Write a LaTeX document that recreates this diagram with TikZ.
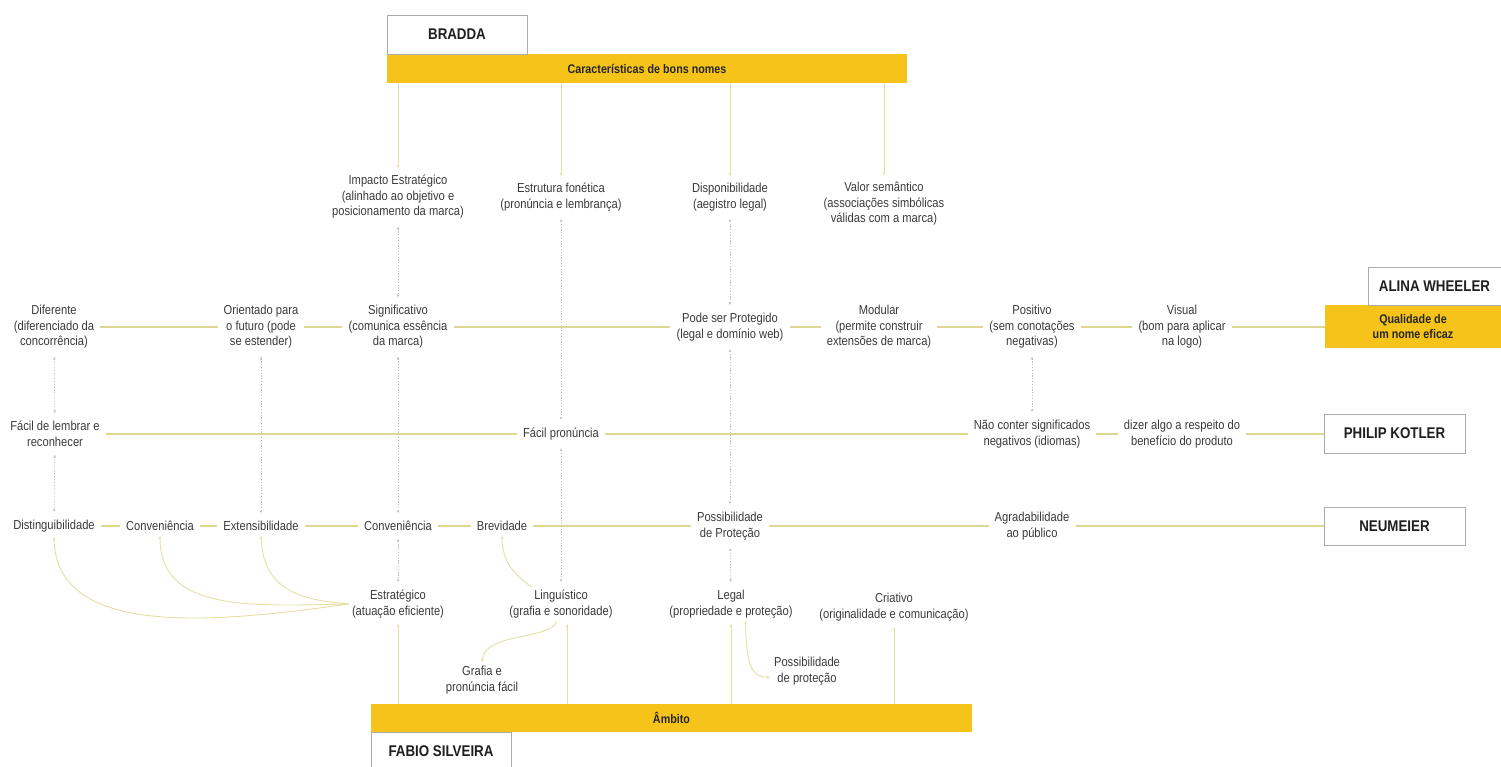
\documentclass[tikz,border=0pt]{standalone}
\usepackage{fontspec}
\setmainfont{Liberation Sans}
\newfontfamily\condfont[FakeStretch=0.86]{Liberation Sans}
\usetikzlibrary{arrows.meta}

\definecolor{gold}{HTML}{F6C31A}
\definecolor{linkc}{HTML}{DDD891}
\definecolor{curvc}{HTML}{E5DEA6}
\definecolor{dotc}{HTML}{BDBDBD}
\definecolor{txt}{HTML}{3A3A3A}
\definecolor{boxline}{HTML}{ABABAB}

\tikzset{
  lbl/.style={align=center, text=txt, inner sep=3pt,
    font=\condfont\fontsize{13}{15.5}\selectfont},
  author/.style={draw=boxline, line width=0.8pt, fill=white, text=black!88,
    font=\condfont\bfseries\fontsize{15.5}{18}\selectfont, inner sep=0pt},
  band/.style={fill=gold, text=black!85, align=center, inner sep=0pt,
    font=\condfont\bfseries\fontsize{12.5}{14.5}\selectfont},
  link/.style={draw=linkc, line width=1.6pt, shorten <=3pt, shorten >=3pt},
  dotlink/.style={draw=dotc, line width=0.7pt, dash pattern=on 1.2pt off 1.6pt,
    shorten <=5pt, shorten >=5pt,
    {Stealth[length=3pt,width=2.6pt]}-{Stealth[length=3pt,width=2.6pt]}},
  feed/.style={draw=curvc, line width=0.9pt,
    -{Stealth[length=3.2pt,width=2.8pt]}},
}

\begin{document}
\begin{tikzpicture}[x=1pt, y=-1pt]
\useasboundingbox (0,0) rectangle (1501,767);

% ---- sources: boxes and bands
\node[band, minimum width=520pt, minimum height=29pt] (carac) at (647,68.5) {Características de bons nomes};
\node[author, minimum width=140pt, minimum height=39pt] (bradda) at (457,34.5) {BRADDA};
\node[band, minimum width=176pt, minimum height=43pt] (qual) at (1413,326.5) {Qualidade de\\um nome eficaz};
\node[author, minimum width=133pt, minimum height=38pt] (alina) at (1434.5,286) {ALINA WHEELER};
\node[author, minimum width=141pt, minimum height=39pt] (philip) at (1394.5,433.5) {PHILIP KOTLER};
\node[author, minimum width=141pt, minimum height=38pt] (neum) at (1394.5,526) {NEUMEIER};
\node[band, minimum width=601pt, minimum height=28pt] (amb) at (671.5,718) {Âmbito};
\node[author, minimum width=140pt, minimum height=38pt] (fabio) at (441,751) {FABIO SILVEIRA};

% ---- Bradda
\node[lbl] (imp) at (398,197) {Impacto Estratégico\\(alinhado ao objetivo e\\posicionamento da marca)};
\node[lbl] (estrut) at (561,197) {Estrutura fonética\\(pronúncia e lembrança)};
\node[lbl] (disp) at (730,197) {Disponibilidade\\(aegistro legal)};
\node[lbl] (valor) at (884,204) {Valor semântico\\(associações simbólicas\\válidas com a marca)};

% ---- Wheeler
\node[lbl] (dif) at (54,327) {Diferente\\(diferenciado da\\concorrência)};
\node[lbl] (ori) at (261,327) {Orientado para\\o futuro (pode\\se estender)};
\node[lbl] (sig) at (398,327) {Significativo\\(comunica essência\\da marca)};
\node[lbl] (pode) at (730,327) {Pode ser Protegido\\(legal e domínio web)};
\node[lbl] (mod) at (879,327) {Modular\\(permite construir\\extensões de marca)};
\node[lbl] (pos) at (1032,327) {Positivo\\(sem conotações\\negativas)};
\node[lbl] (vis) at (1182,327) {Visual\\(bom para aplicar\\na logo)};

% ---- Kotler
\node[lbl] (facil) at (55,434) {Fácil de lembrar e\\reconhecer};
\node[lbl] (fpron) at (561,434) {Fácil pronúncia};
\node[lbl] (nao) at (1032,434) {Não conter significados\\negativos (idiomas)};
\node[lbl] (dizer) at (1182,434) {dizer algo a respeito do\\benefício do produto};

% ---- Neumeier
\node[lbl] (dist) at (54,526) {Distinguibilidade};
\node[lbl] (conv1) at (160,526) {Conveniência};
\node[lbl] (ext) at (261,526) {Extensibilidade};
\node[lbl] (conv2) at (398,526) {Conveniência};
\node[lbl] (brev) at (502,526) {Brevidade};
\node[lbl] (possib) at (730,526) {Possibilidade\\de Proteção};
\node[lbl] (agrad) at (1032,526) {Agradabilidade\\ao público};

% ---- Silveira
\node[lbl] (estr) at (398,604) {Estratégico\\(atuação eficiente)};
\node[lbl] (ling) at (561,604) {Linguístico\\(grafia e sonoridade)};
\node[lbl] (legal) at (731,604) {Legal\\(propriedade e proteção)};
\node[lbl] (criat) at (894,607) {Criativo\\(originalidade e comunicação)};
\node[lbl] (grafia) at (482,680) {Grafia e\\pronúncia fácil};
\node[lbl] (possprot) at (807,671) {Possibilidade\\de proteção};

% ---- rows
\draw[link] (dif) -- (ori);
\draw[link] (ori) -- (sig);
\draw[link] (sig) -- (pode);
\draw[link] (pode) -- (mod);
\draw[link] (mod) -- (pos);
\draw[link] (pos) -- (vis);
\draw[link, shorten >=0pt] (vis) -- (vis -| qual.west);

\draw[link] (facil) -- (fpron);
\draw[link] (fpron) -- (nao);
\draw[link] (nao) -- (dizer);
\draw[link, shorten >=0pt] (dizer) -- (dizer -| philip.west);

\draw[link] (dist) -- (conv1);
\draw[link] (conv1) -- (ext);
\draw[link] (ext) -- (conv2);
\draw[link] (conv2) -- (brev);
\draw[link] (brev) -- (possib);
\draw[link] (possib) -- (agrad);
\draw[link, shorten >=0pt] (agrad) -- (agrad -| neum.west);

% ---- correspondences between authors
\draw[dotlink] (imp) -- (sig);
\draw[dotlink] (estrut) -- (fpron);
\draw[dotlink] (disp) -- (pode);
\draw[dotlink] (dif) -- (facil);
\draw[dotlink] (ori) -- (ext);
\draw[dotlink] (sig) -- (conv2);
\draw[dotlink] (pode) -- (possib);
\draw[dotlink] (pos) -- (nao);
\draw[dotlink] (facil) -- (dist);
\draw[dotlink] (conv2) -- (estr);
\draw[dotlink] (fpron) -- (ling);
\draw[dotlink] (possib) -- (legal);

% ---- from the bands
\draw[feed, shorten >=4pt] (carac.south -| imp) -- (imp);
\draw[feed, shorten >=4pt] (carac.south -| estrut) -- (estrut);
\draw[feed, shorten >=4pt] (carac.south -| disp) -- (disp);
\draw[feed, shorten >=4pt] (carac.south -| valor) -- (valor);
\draw[feed, shorten >=3pt] (amb.north -| estr) -- (estr);
\draw[feed, shorten >=3pt] (amb.north -| ling.-70) -- (ling.-70);
\draw[feed, shorten >=3pt] (amb.north -| legal) -- (legal);
\draw[feed, shorten >=3pt] (amb.north -| criat) -- (criat);

% ---- Silveira branches
\draw[feed, shorten >=2pt] (estr.west) .. controls (220,622) and (56,640) .. (dist.south);
\draw[feed, shorten >=2pt] (estr.west) .. controls (250,606) and (160,612) .. (conv1.south);
\draw[feed, shorten >=2pt] (estr.west) .. controls (300,600) and (263,590) .. (ext.south);
\draw[feed, shorten >=2pt] (ling.150) .. controls (515,575) and (502,562) .. (brev.south);
\draw[feed, shorten >=1pt] (ling.-105) .. controls (552,640) and (484,632) .. (grafia.north);
\draw[feed, shorten >=1pt] (legal.-50) .. controls (747,665) and (750,677) .. (possprot.190);
\end{tikzpicture}
\end{document}
